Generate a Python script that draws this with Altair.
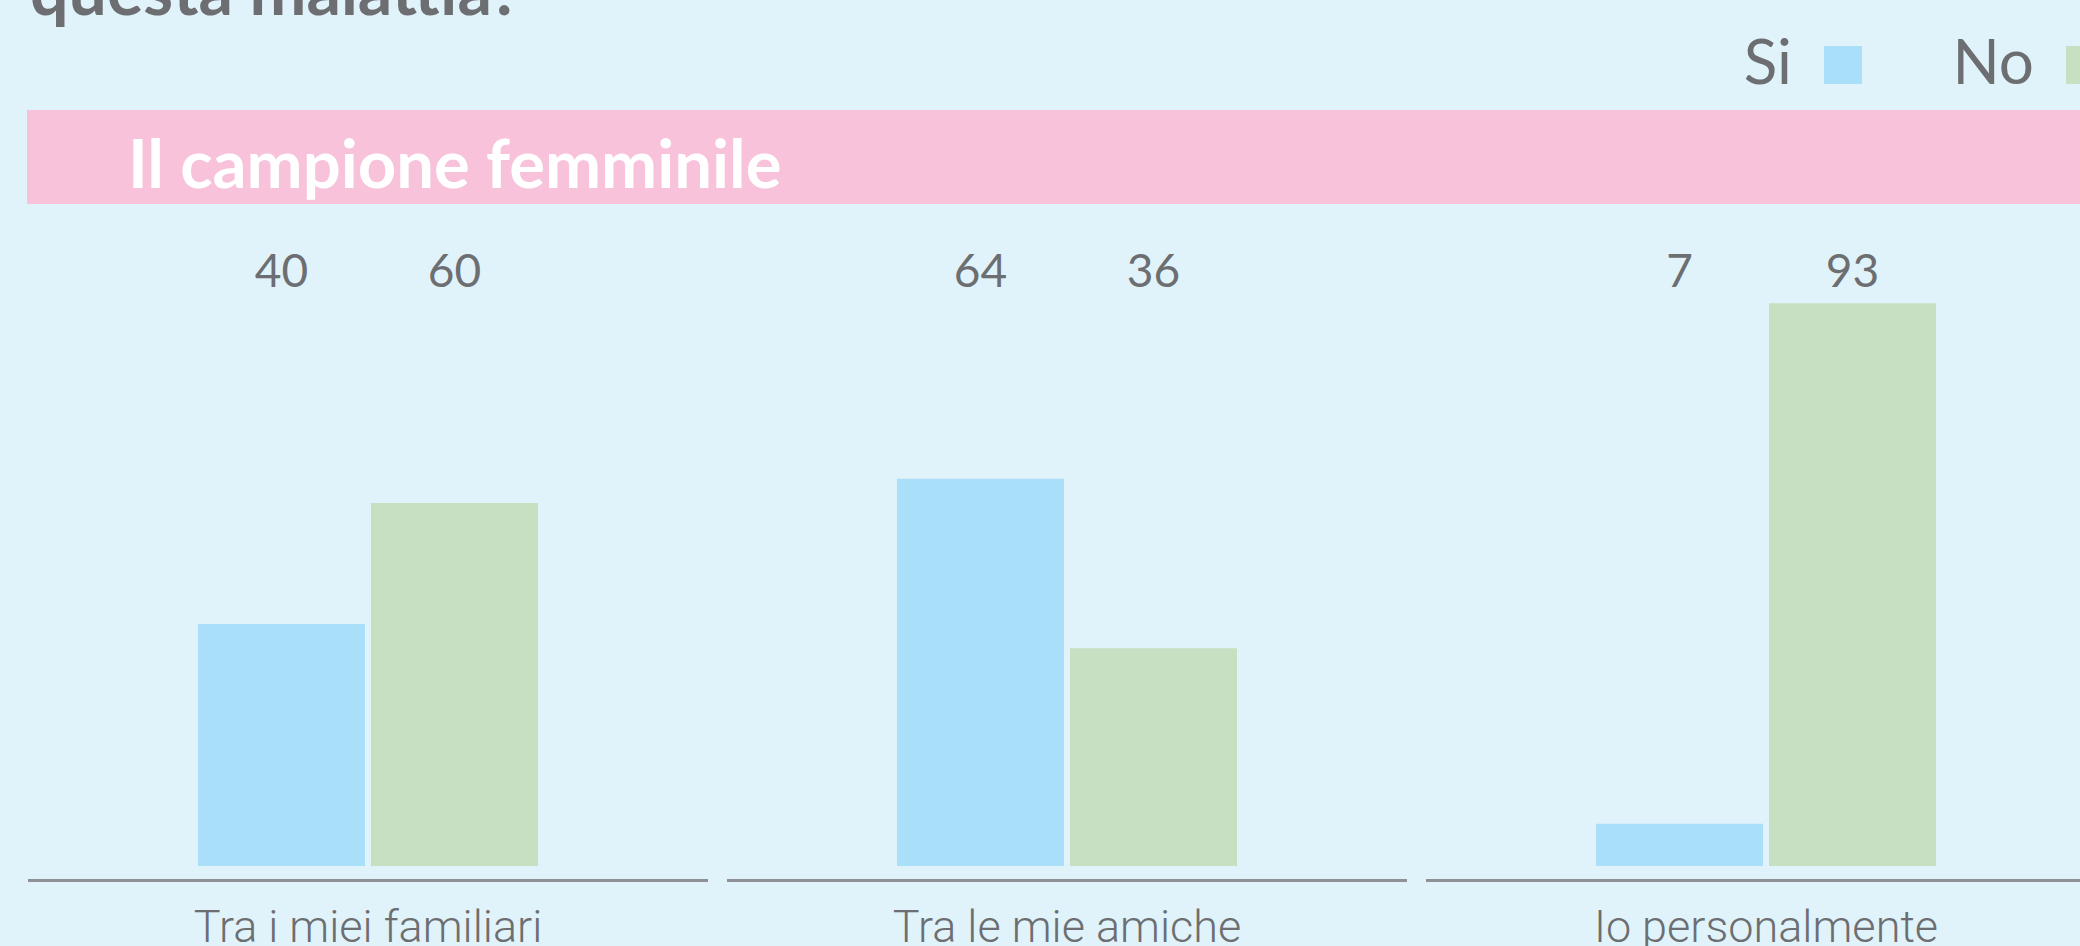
import altair as alt
import pandas as pd

# ---- data ----
groups = ["Tra i miei familiari", "Tra le mie amiche", "Io personalmente"]
answers = ["Si", "No"]
si_values = [40, 64, 7]
no_values = [60, 36, 93]
title_text = "questa malattia?"
banner_text = "Il campione femminile"

colors = ["#aadff9", "#c6e0c1"]
grey = "#6d6e71"
bg = "#e0f3fa"
pink = "#f7c2da"

rows = []
for g, s, n in zip(groups, si_values, no_values):
    rows.append({"group": g, "answer": "Si", "value": s})
    rows.append({"group": g, "answer": "No", "value": n})
df = pd.DataFrame(rows)
gdf = pd.DataFrame({"group": groups})
bdf = pd.DataFrame({"label": [banner_text]})
tdf = pd.DataFrame({"label": [title_text]})

xscale = alt.Scale(domain=groups, range=[28, 2106], paddingInner=0.0272, paddingOuter=0)
xenc = alt.X("group:N", scale=xscale, axis=None, sort=groups)
xoff = alt.XOffset("answer:N", scale=alt.Scale(domain=answers, paddingInner=0.0347, paddingOuter=0.9827),
                   sort=answers)

title_mark = alt.Chart(tdf).mark_text(
    align="left", baseline="alphabetic", font="Lato", fontWeight="bold", fontSize=68, color=grey
).encode(x=alt.value(30), y=alt.value(15), text="label:N")

banner = alt.Chart(bdf).mark_rect(color=pink).encode(
    x=alt.value(27), x2=alt.value(2080), y=alt.value(110), y2=alt.value(204)
)
banner_label = alt.Chart(bdf).mark_text(
    align="left", baseline="alphabetic", font="Lato", fontWeight="bold", fontSize=67, color="white"
).encode(x=alt.value(128), y=alt.value(188), text="label:N")

bars = alt.Chart(df).mark_bar().encode(
    x=xenc,
    xOffset=xoff,
    y=alt.Y("value:Q", scale=alt.Scale(domain=[0, 100], range=[866, 261]), axis=None),
    color=alt.Color(
        "answer:N",
        scale=alt.Scale(domain=answers, range=colors),
        sort=answers,
        title=None,
        legend=alt.Legend(
            orient="none", legendX=1812, legendY=34, direction="horizontal",
            symbolType="square", symbolSize=1444, symbolStrokeWidth=0, symbolOpacity=1,
            labelFont="Lato", labelFontSize=62, labelColor=grey,
            labelAlign="right", labelOffset={"expr": "-82"}, columnPadding=90, labelLimit=0,
        ),
    ),
)

values = alt.Chart(df).mark_text(
    baseline="alphabetic", font="Lato", fontSize=46, color=grey
).encode(x=xenc, xOffset=xoff, y=alt.value(287), text="value:Q")

segments = alt.Chart(gdf).mark_bar(color="#8f9196").encode(
    x=xenc, y=alt.value(879), y2=alt.value(882)
)

cat_labels = alt.Chart(gdf).mark_text(
    baseline="alphabetic", font="Roboto", fontWeight=300, fontSize=45, color=grey
).encode(x=xenc, y=alt.value(942), text="group:N")

chart = alt.layer(title_mark, banner, banner_label, segments, bars, values, cat_labels).properties(
    width=2080, height=946,
    autosize=alt.AutoSizeParams(type="none"),
    padding=0,
    background=bg,
).configure_view(stroke=None, fill=bg)

chart.save("out.html", embed_options={"renderer": "svg", "actions": False})
